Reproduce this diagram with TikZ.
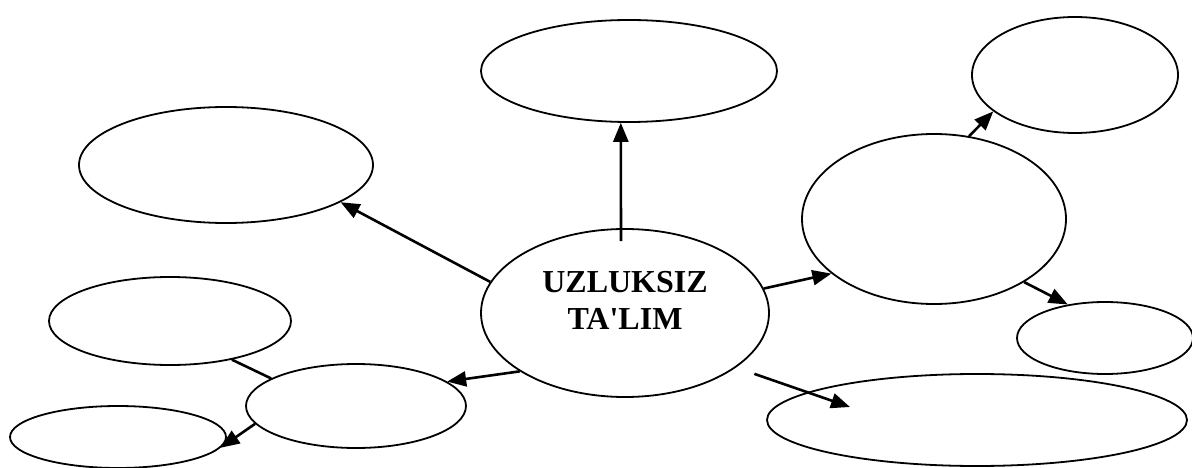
\documentclass[tikz,border=0pt]{standalone}
\usepackage{fontspec}
\setmainfont{Liberation Serif}
\usetikzlibrary{arrows.meta,shapes.geometric}

\begin{document}
\begin{tikzpicture}[x=1pt,y=-1pt,
  bubble/.style={draw,ellipse,line width=1.8pt,inner sep=0pt},
  arr/.style={line width=2.6pt,-{Triangle[length=19pt,width=15pt]}}]
\useasboundingbox (0,0) rectangle (1192,468);
% ovals
\node[bubble,minimum width=296pt,minimum height=102pt] (tc) at (629,71) {};
\node[bubble,minimum width=206pt,minimum height=116pt] (tr) at (1075,75) {};
\node[bubble,minimum width=294pt,minimum height=116pt] (lu) at (226,165) {};
\node[bubble,minimum width=288pt,minimum height=168pt] (c) at (625,313) {};
\node[bubble,minimum width=264pt,minimum height=170pt] (rm) at (934,219) {};
\node[bubble,minimum width=176pt,minimum height=72pt] (rs) at (1105,338) {};
\node[bubble,minimum width=420pt,minimum height=92pt] (br) at (977,420) {};
\node[bubble,minimum width=242pt,minimum height=88pt] (lm) at (170,321) {};
\node[bubble,minimum width=220pt,minimum height=84pt] (bm) at (356,406) {};
\node[bubble,minimum width=216pt,minimum height=62pt] (bl) at (118,437) {};
\node[align=center,inner sep=0pt,font=\fontsize{32}{37}\selectfont\bfseries] (ttl) at (625,300) {UZLUKSIZ\\TA\textquotesingle LIM};
% arrows
\draw[arr] ([xshift=-4pt,yshift=-13pt]c.north) -- (tc.-99);
\draw[arr] (c.167) -- (lu.-18);
\draw[arr] (c.10) -- (rm.-152);
\draw[arr] (rm.67) -- (tr.-156);
\draw[arr] (rm.-35) -- (rs.138);
\draw[arr] ([shift={(16pt,-8pt)}]c.-25) -- ([shift={(-127pt,13pt)}]br.center);
\draw[arr] (c.-151) -- (bm.15);
\draw[line width=2.6pt] (bm.162) -- (lm.-32);
\draw[arr] (bm.-170) -- (bl.-6);
\end{tikzpicture}
\end{document}
